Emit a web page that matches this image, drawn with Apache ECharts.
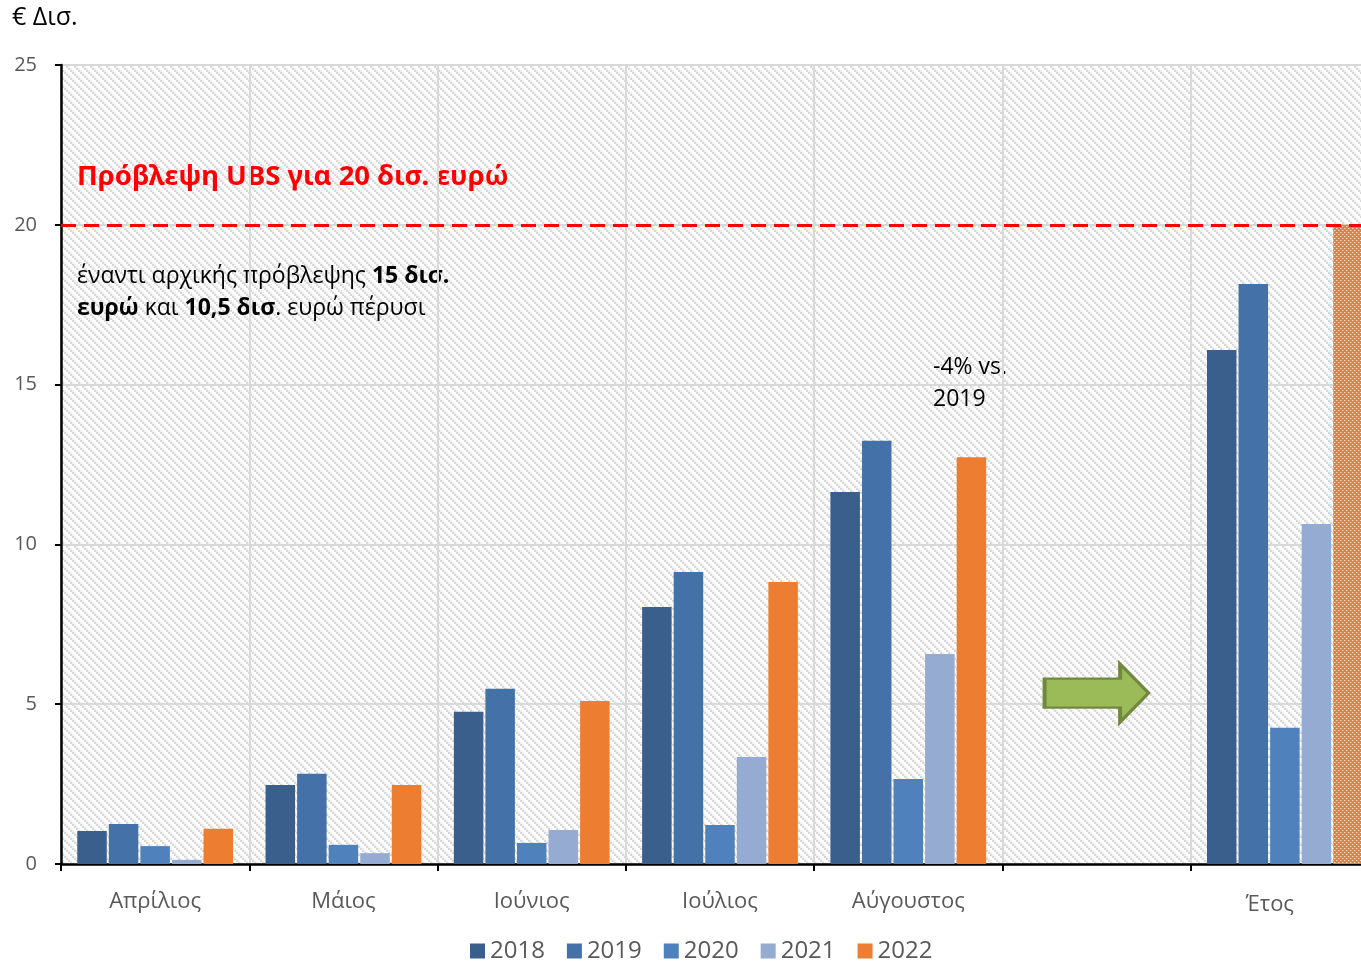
<!DOCTYPE html>
<html>
<head>
<meta charset="utf-8">
<script src="https://cdn.jsdelivr.net/npm/echarts@6/dist/echarts.min.js"></script>
<style>
  html, body { margin: 0; padding: 0; background: #fff; overflow: hidden; }
  #chart { width: 1400px; height: 963px; }
</style>
</head>
<body>
<div id="chart"></div>
<script>
// Tourism revenue (€ bn): cumulative by month, and full year
const categories = ['Απρίλιος', 'Μάιος', 'Ιούνιος', 'Ιούλιος', 'Αύγουστος', '', 'Έτος'];
const years = ['2018', '2019', '2020', '2021', '2022'];
const s2018 = [1.03, 2.47, 4.76, 8.04, 11.64, null, 16.08];
const s2019 = [1.25, 2.82, 5.48, 9.14, 13.24, null, 18.15];
const s2020 = [0.56, 0.60, 0.66, 1.22, 2.66, null, 4.26];
const s2021 = [0.13, 0.34, 1.06, 3.35, 6.57, null, 10.64];
const s2022 = [1.10, 2.47, 5.10, 8.82, 12.73, null, 20.0];
const ubsForecast = 20;
const yTicks = [0, 5, 10, 15, 20, 25];

const colors = ['#3a5f8d', '#4472a8', '#4f81bd', '#95abd1', '#ed7d31'];
const FONT = '"Open Sans", "Noto Sans", sans-serif';

// light diagonal hatch for the plot background
function hatchPattern() {
  const c = document.createElement('canvas');
  c.width = 8; c.height = 8;
  const g = c.getContext('2d');
  g.fillStyle = '#ffffff';
  g.fillRect(0, 0, 8, 8);
  for (let k = 0; k < 4; k++) {
    g.fillStyle = '#d8d8d8';
    g.fillRect(2 * k, 2 * k, 2, 2);
    g.fillStyle = '#f0f0f0';
    g.fillRect((2 * k + 2) % 8, 2 * k, 2, 2);
  }
  return c;
}
// dotted orange fill for the full-year forecast bar
function dotPattern() {
  const c = document.createElement('canvas');
  c.width = 4; c.height = 4;
  const g = c.getContext('2d');
  g.fillStyle = '#ed7d31';
  g.fillRect(0, 0, 4, 4);
  g.fillStyle = '#fbd9c2';
  g.fillRect(0, 0, 1, 1);
  g.fillRect(2, 2, 1, 1);
  g.fillStyle = '#f4a877';
  g.fillRect(1, 0, 1, 1);
  g.fillRect(3, 2, 1, 1);
  return c;
}

const seriesData = [s2018, s2019, s2020, s2021, s2022];
const series = years.map((y, i) => {
  const data = seriesData[i].map((v, j) => {
    if (i === 4 && j === categories.length - 1) {
      return { value: v, itemStyle: { color: { image: dotPattern(), repeat: 'repeat' } } };
    }
    return v;
  });
  const s = {
    name: y,
    type: 'bar',
    data: data,
    barWidth: 29.5,
    barGap: '7%',
    itemStyle: { color: colors[i] },
    emphasis: { disabled: true }
  };
  if (i === 4) {
    s.markLine = {
      silent: true,
      symbol: 'none',
      label: { show: false },
      lineStyle: { color: '#ff0000', type: [15, 8], width: 3 },
      data: [{ yAxis: ubsForecast }]
    };
  }
  if (i === 2) {
    // the middle bar sits on the category centre, so the arrow is anchored here
    s.markPoint = {
      silent: true,
      symbol: 'path://M0,15 L77,15 L77,0 L106,30 L77,60 L77,45 L0,45 Z',
      symbolSize: [104, 58],
      itemStyle: { color: '#9bbb59', borderColor: '#71893f', borderWidth: 3 },
      label: { show: false },
      data: [{ coord: [5, 5.35] }]
    };
  }
  return s;
});

const chart = echarts.init(document.getElementById('chart'), null, { renderer: 'canvas' });
chart.setOption({
  animation: false,
  color: colors,
  textStyle: { fontFamily: FONT },
  grid: {
    left: 61, top: 65, width: 1318, bottom: 99,
    show: true,
    backgroundColor: { image: hatchPattern(), repeat: 'repeat' },
    borderWidth: 0
  },
  legend: {
    top: 934,
    left: 465,
    icon: 'rect',
    itemWidth: 15,
    itemHeight: 15,
    itemGap: 22,
    textStyle: { fontSize: 24, color: '#595959', fontFamily: FONT },
    data: years
  },
  xAxis: {
    type: 'category',
    data: categories.map((c, i) => i === categories.length - 1
      ? { value: c, textStyle: { padding: [3, 30, 0, 0] } } : c),
    boundaryGap: true,
    axisLine: { lineStyle: { color: '#000', width: 2.5 } },
    axisTick: { show: true, length: 7, lineStyle: { color: '#000', width: 2 } },
    axisLabel: { fontSize: 22, color: '#595959', margin: 27, fontFamily: FONT, interval: 0 },
    splitLine: { show: true, lineStyle: { color: '#d9d9d9', width: 2 } }
  },
  yAxis: {
    type: 'value',
    min: yTicks[0],
    max: yTicks[yTicks.length - 1],
    interval: 5,
    axisLine: { show: true, lineStyle: { color: '#000', width: 2.5 } },
    axisTick: { show: true, length: 6, lineStyle: { color: '#000', width: 2 } },
    axisLabel: { fontSize: 20, color: '#595959', margin: 24, fontFamily: FONT },
    splitLine: { show: true, lineStyle: { color: '#d9d9d9', width: 2 } }
  },
  graphic: [
    { type: 'text', left: 12, top: 5, style: { text: '€ Δισ.', font: '25px ' + FONT, fill: '#000' } },
    { type: 'text', left: 77, top: 163, style: {
        text: 'Πρόβλεψη UBS για 20 δισ. ευρώ', font: 'bold 27.5px "Noto Sans", sans-serif', fill: '#ff0000' } },
    { type: 'text', left: 77, top: 265, style: {
        text: '{n|έναντι αρχικής πρόβλεψης }{b|15 δισ.}\n{b|ευρώ}{n| και }{b|10,5 δισ}{n|. ευρώ πέρυσι}',
        rich: {
          n: { font: '23px ' + FONT, fill: '#000', lineHeight: 32 },
          b: { font: 'bold 23px ' + FONT, fill: '#000', lineHeight: 32 }
        } } },
    { type: 'text', left: 933, top: 351, style: {
        text: '-4% vs.\n2019', font: '23px ' + FONT, fill: '#000', align: 'center', lineHeight: 32 } }
  ],
  series: series
});
</script>
</body>
</html>
